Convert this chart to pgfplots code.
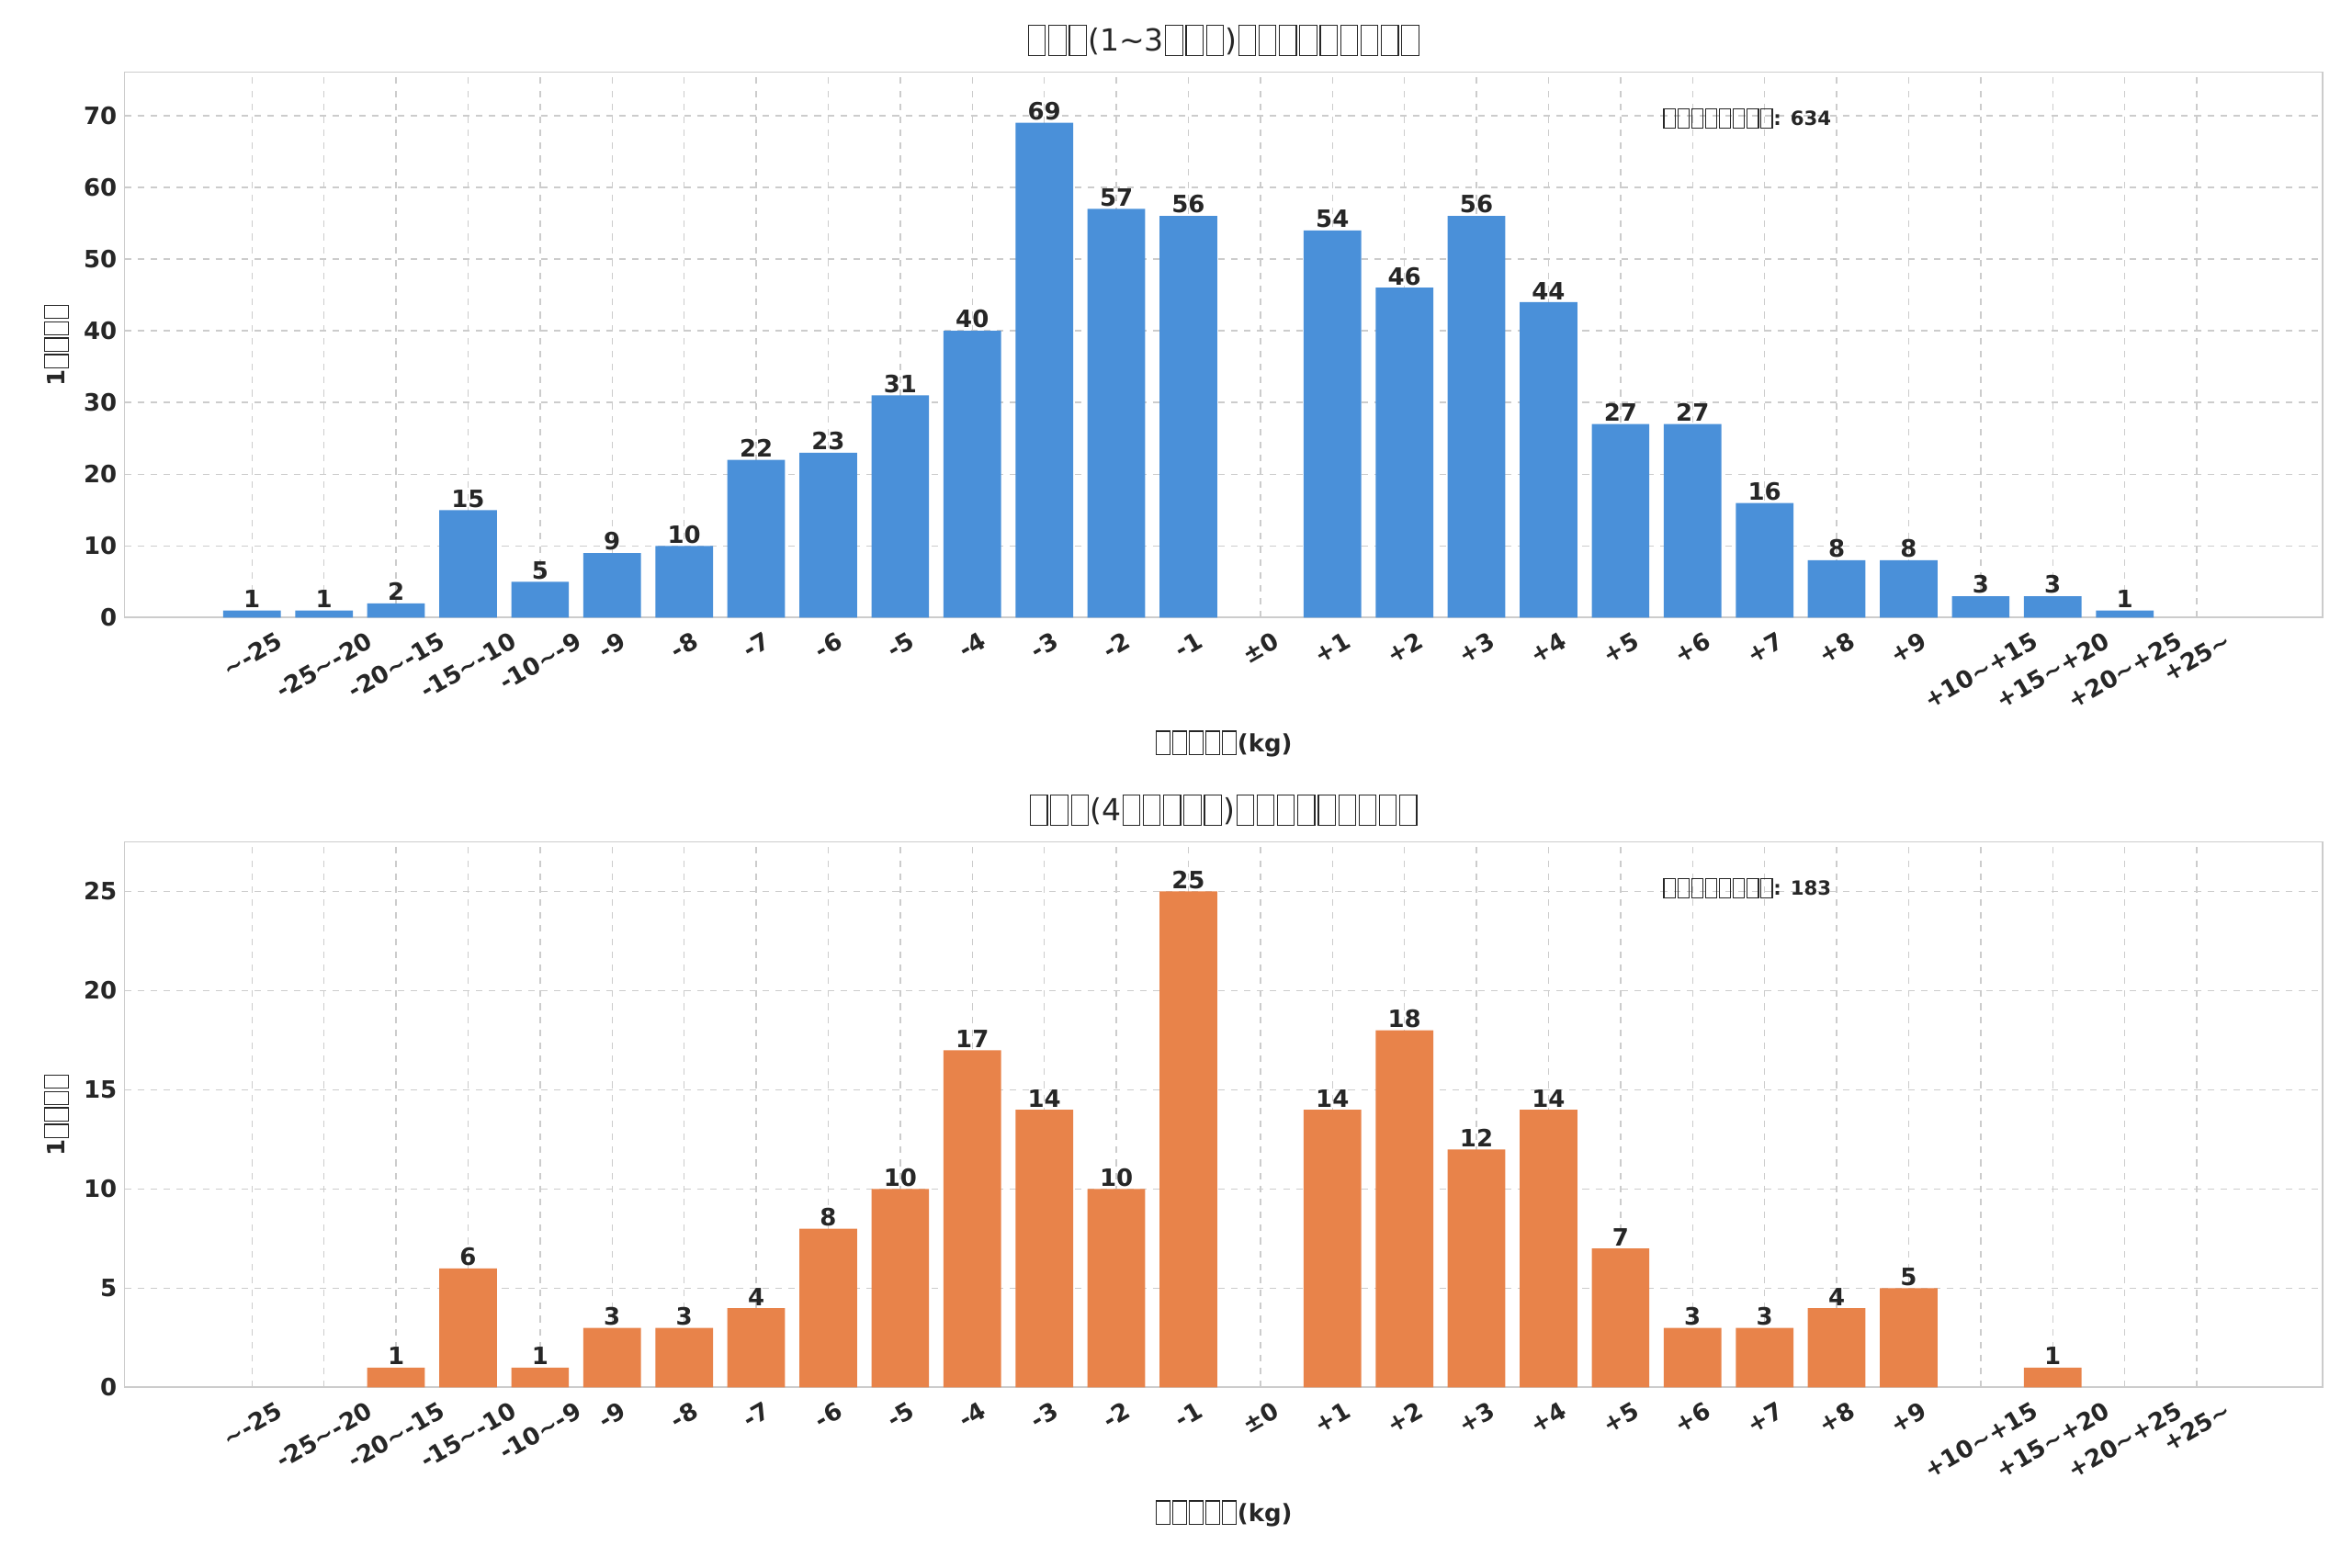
\documentclass[border=0pt]{standalone}
\usepackage{pgfplots}
\pgfplotsset{compat=1.18}
\usepackage{fontspec}
\setmainfont{DejaVu Sans}
\usepackage{graphicx}
\definecolor{cb}{HTML}{4A90D9}
\definecolor{co}{HTML}{E8834A}
\definecolor{gl}{HTML}{CCCCCC}
\definecolor{tx}{HTML}{262626}
\newcommand\tofu{\kern.04em{\fboxsep=0pt\fboxrule=0.5pt\fbox{\rule[-0.12em]{0pt}{0.95em}\hspace{0.52em}}}\kern.04em}
\newcommand\tthree{\tofu\tofu\tofu}
\newcommand\R[1]{\rotatebox{30}{#1}}
\newcommand\T{\textasciitilde}
\pgfplotsset{
  myax/.style={
    scale only axis, width=14.02in, height=3.48in,
    xmin=-1.77, xmax=28.75, ymin=0,
    ybar, bar width=0.8, bar shift=0pt,
    axis line style={gl, line width=0.8pt},
    major tick length=0pt,
    grid=major, grid style={gl, dashed, line width=0.6pt},
    xtick={0,...,27},
    xticklabels={\R{\T-25},\R{-25\T-20},\R{-20\T-15},\R{-15\T-10},\R{-10\T-9},\R{-9},\R{-8},\R{-7},\R{-6},\R{-5},\R{-4},\R{-3},\R{-2},\R{-1},\R{±0},\R{+1},\R{+2},\R{+3},\R{+4},\R{+5},\R{+6},\R{+7},\R{+8},\R{+9},\R{+10\T+15},\R{+15\T+20},\R{+20\T+25},\R{+25\T}},
    xticklabel style={anchor=north, font=\fontsize{11}{13}\selectfont\bfseries, text=tx, inner sep=2pt, yshift=-4pt},
    yticklabel style={font=\fontsize{11}{13}\selectfont\bfseries, text=tx},
    /pgf/number format/assume math mode=true,
    xlabel={\tofu\tofu\tofu\tofu\tofu(kg)},
    xlabel style={font=\fontsize{11}{13}\selectfont\bfseries, text=tx, yshift=-4pt},
    ylabel={1\tofu\tofu\tofu\tofu},
    ylabel style={font=\fontsize{11}{13}\selectfont\bfseries, text=tx},
    title style={font=\fontsize{14}{16}\selectfont, text=tx, yshift=-2pt},
    nodes near coords,
    every node near coord/.append style={font=\fontsize{11}{13}\selectfont\bfseries, text=tx, inner sep=1pt},
  }
}
\begin{document}
\begin{tikzpicture}
\path (0,0) rectangle (15in,-10in);
\begin{axis}[myax, at={(0.794in,-3.94in)}, anchor=south west,
  ymax=76.06, ytick={0,10,...,70},
  title={\tthree(1\T3\tthree)\tthree\tthree\tthree}]
\addplot[fill=cb, draw=none] coordinates {(0,1)(1,1)(2,2)(3,15)(4,5)(5,9)(6,10)(7,22)(8,23)(9,31)(10,40)(11,69)(12,57)(13,56)(15,54)(16,46)(17,56)(18,44)(19,27)(20,27)(21,16)(22,8)(23,8)(24,3)(25,3)(26,1)};
\node[font=\fontsize{9}{11}\selectfont\bfseries, text=tx] at (rel axis cs:0.738,0.915) {\tthree\tthree\tofu\tofu: 634};
\end{axis}
\begin{axis}[myax, at={(0.794in,-8.85in)}, anchor=south west,
  ymax=27.5, ytick={0,5,...,25},
  title={\tthree(4\tofu\tofu\tofu\tofu\tofu)\tthree\tthree\tthree}]
\addplot[fill=co, draw=none] coordinates {(2,1)(3,6)(4,1)(5,3)(6,3)(7,4)(8,8)(9,10)(10,17)(11,14)(12,10)(13,25)(15,14)(16,18)(17,12)(18,14)(19,7)(20,3)(21,3)(22,4)(23,5)(25,1)};
\node[font=\fontsize{9}{11}\selectfont\bfseries, text=tx] at (rel axis cs:0.738,0.915) {\tthree\tthree\tofu\tofu: 183};
\end{axis}
\end{tikzpicture}
\end{document}
